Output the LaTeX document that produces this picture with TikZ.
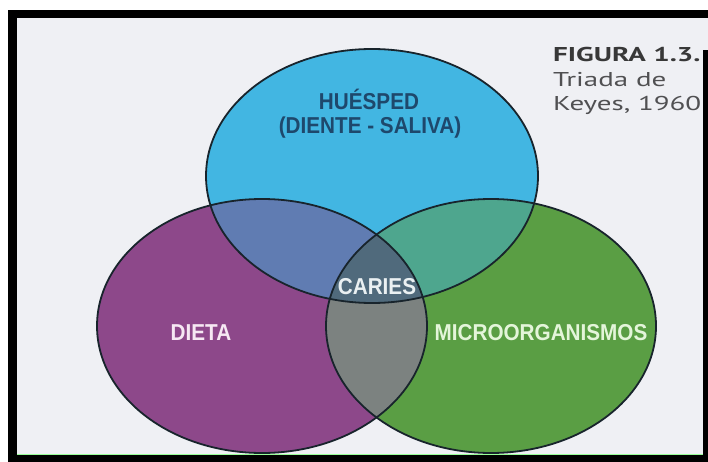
\documentclass[tikz,border=0pt]{standalone}
\usepackage{fontspec}
\setmainfont{Liberation Sans}
\newfontfamily\rotfont[FakeStretch=0.9]{Liberation Sans}
\newfontfamily\piefont[FakeStretch=1.45]{PT Sans}
\usepackage{tikz}

\definecolor{fondo}{RGB}{239,240,244}
\definecolor{azul}{RGB}{66,182,226}
\definecolor{morado}{RGB}{141,72,138}
\definecolor{verde}{RGB}{90,158,68}
\definecolor{azulmorado}{RGB}{96,124,178}
\definecolor{azulverde}{RGB}{78,166,142}
\definecolor{moradoverde}{RGB}{124,130,128}
\definecolor{centro}{RGB}{80,106,124}
\definecolor{contorno}{RGB}{24,36,44}
\definecolor{textoazul}{RGB}{30,72,108}
\definecolor{gristexto}{RGB}{80,80,82}

\begin{document}
\begin{tikzpicture}[x=1pt,y=-1pt,
		etiqueta/.style={font=\rotfont\bfseries\fontsize{23}{23}\selectfont,inner sep=0pt,anchor=base},
		pie/.style={font=\piefont\fontsize{20}{20}\selectfont,text=gristexto,inner sep=0pt,anchor=base west},
		contorno/.style={draw=contorno,line width=1.8pt}]
	\def\huesped{(372,176) ellipse [x radius=166,y radius=127]}
	\def\dieta{(262,326) ellipse [x radius=165,y radius=127]}
	\def\micro{(491,326) ellipse [x radius=165,y radius=127]}
	\useasboundingbox (0,0) rectangle (708,462);
	\fill[white] (0,0) rectangle (708,462);
	\fill[black] (8,10) rectangle (708,462);
	\fill[fondo] (17,18) rectangle (708,455);
	\draw[green!40,line width=1pt] (17,454) -- (708,454);
	% circulos
	\fill[azul] \huesped;
	\fill[morado] \dieta;
	\fill[verde] \micro;
	\begin{scope}
		\clip \huesped;
		\fill[azulmorado] \dieta;
		\fill[azulverde] \micro;
	\end{scope}
	\begin{scope}
		\clip \dieta;
		\fill[moradoverde] \micro;
		\clip \micro;
		\fill[centro] \huesped;
	\end{scope}
	\draw[contorno] \huesped;
	\draw[contorno] \dieta;
	\draw[contorno] \micro;
	% textos
	\node[etiqueta,text=textoazul] (h1) at (369,110) {HUÉSPED};
	\node[etiqueta,text=textoazul] (h2) at (370,134) {(DIENTE - SALIVA)};
	\node[etiqueta,text={rgb,255:red,234;green,240;blue,242}] (caries) at (377,294) {CARIES};
	\node[etiqueta,text={rgb,255:red,246;green,232;blue,243}] (dieta) at (201,340) {DIETA};
	\node[etiqueta,text={rgb,255:red,228;green,245;blue,218}] (micro) at (541,340) {MICROORGANISMOS};
	\node[pie,font=\piefont\bfseries\fontsize{20}{20}\selectfont,text=black!78] (fig) at (553,62) {FIGURA 1.3.};
	\node[pie] (tri) at (553,87) {Triada de};
	\node[pie] (key) at (553,111) {Keyes, 1960};
	\fill[black] (703,50) rectangle (708,462);
\end{tikzpicture}
\end{document}
